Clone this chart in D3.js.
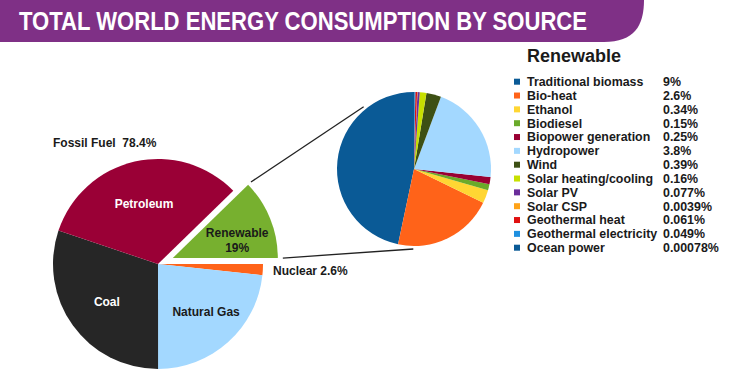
<!DOCTYPE html>
<html>
<head>
<meta charset="utf-8">
<script src="https://cdn.jsdelivr.net/npm/d3@7"></script>
<style>
  body { margin: 0; background: #fff; }
  text { font-family: "Liberation Sans", Arial, sans-serif; font-weight: bold; }
</style>
</head>
<body>
<div id="chart"></div>
<script>
// main pie, clockwise from the renewable wedge (shares as drawn)
const mainNames = ["Renewable", "Nuclear", "Natural Gas", "Coal", "Petroleum"];
const mainShares = [12.3, 1.7, 23.3, 30.2, 32.6];
const mainColors = ["#77b02f", "#ff6319", "#a3d8ff", "#262626", "#9a0036"];

// renewable breakdown, legend order (counter-clockwise from top in the pie)
const renNames = ["Traditional biomass", "Bio-heat", "Ethanol", "Biodiesel", "Biopower generation",
  "Hydropower", "Wind", "Solar heating/cooling", "Solar PV", "Solar CSP",
  "Geothermal heat", "Geothermal electricity", "Ocean power"];
const renLabels = ["9%", "2.6%", "0.34%", "0.15%", "0.25%", "3.8%", "0.39%", "0.16%",
  "0.077%", "0.0039%", "0.061%", "0.049%", "0.00078%"];
const renShares = [46.7, 21.1, 2.8, 1.25, 1.5, 21, 3.1, 1.4, 0.47, 0.08, 0.36, 0.2, 0.08];
const renColors = ["#0a5a96", "#ff6319", "#ffd633", "#6aaa2a", "#990033", "#a3d8ff", "#3d5014",
  "#c7e000", "#6a2d9a", "#ffa319", "#e01010", "#1e90e0", "#0a5a96"];

const width = 750, height = 384;
const rad = d => d * Math.PI / 180;

const svg = d3.select("#chart").append("svg")
  .attr("width", width).attr("height", height);

// header band
svg.append("path")
  .attr("d", "M0,0 H644 C644,26 634,42 604,42 H0 Z")
  .attr("fill", "#7f3086");

svg.append("text")
  .attr("x", 19).attr("y", 30)
  .attr("font-size", 25)
  .attr("fill", "#fff")
  .attr("textLength", 568)
  .attr("lengthAdjust", "spacingAndGlyphs")
  .text("TOTAL WORLD ENERGY CONSUMPTION BY SOURCE");

// ---- main pie
const cx = 158, cy = 264, R = 105, explode = 16;

const mainPie = d3.pie().sort(null)
  .startAngle(rad(45.8)).endAngle(rad(45.8) + 2 * Math.PI);
const mainArcs = mainPie(mainShares);
const arc = d3.arc().innerRadius(0).outerRadius(R);
const labelArc = d3.arc().innerRadius(R * 0.6).outerRadius(R * 0.6);

const mainG = svg.append("g").attr("transform", `translate(${cx},${cy})`);

const offsetOf = (d, i) => {
  if (i !== 0) return [0, 0];
  const m = (d.startAngle + d.endAngle) / 2;
  return [explode * Math.sin(m), -explode * Math.cos(m)];
};

mainG.selectAll("path")
  .data(mainArcs)
  .join("path")
  .attr("d", arc)
  .attr("transform", (d, i) => `translate(${offsetOf(d, i)})`)
  .attr("fill", (d, i) => mainColors[i]);

// slice labels
const labelColors = { "Petroleum": "#fff", "Coal": "#fff", "Natural Gas": "#1a1a1a" };
mainArcs.forEach((d, i) => {
  const name = mainNames[i];
  if (name === "Nuclear") return;
  const [ox, oy] = offsetOf(d, i);
  const [lx, ly] = labelArc.centroid(d);
  const t = mainG.append("text")
    .attr("text-anchor", "middle")
    .attr("font-size", 12)
    .attr("fill", labelColors[name] || "#1a1a1a");
  if (name === "Renewable") {
    t.append("tspan").attr("x", lx + ox + 6).attr("y", ly + oy + 3).text("Renewable");
    t.append("tspan").attr("x", lx + ox + 6).attr("y", ly + oy + 18).text("19%");
  } else {
    t.attr("x", lx + (name === "Natural Gas" ? 6 : 0)).attr("y", ly + 5).text(name);
  }
});

svg.append("text")
  .attr("x", 273).attr("y", 275)
  .attr("font-size", 12)
  .attr("fill", "#1a1a1a")
  .text("Nuclear 2.6%");

svg.append("text")
  .attr("x", 53).attr("y", 147)
  .attr("font-size", 12)
  .attr("fill", "#1a1a1a")
  .attr("xml:space", "preserve")
  .text("Fossil Fuel  78.4%");

// ---- renewable breakdown pie
const sx = 414, sy = 169, r = 77;
const renPie = d3.pie().sort(null).startAngle(2 * Math.PI).endAngle(0);
const subArc = d3.arc().innerRadius(0).outerRadius(r);

svg.append("g")
  .attr("transform", `translate(${sx},${sy})`)
  .selectAll("path")
  .data(renPie(renShares))
  .join("path")
  .attr("d", subArc)
  .attr("fill", (d, i) => renColors[i]);

// connector lines from the exploded wedge to the breakdown pie
const ren = mainArcs[0];
const [ex, ey] = offsetOf(ren, 0);
const polar = (x0, y0, a, rr) => [x0 + rr * Math.sin(a), y0 - rr * Math.cos(a)];
const links = [
  [polar(cx + ex, cy + ey, ren.startAngle, R + 4), polar(sx, sy, rad(321), r + 3)],
  [polar(cx + ex, cy + ey, ren.endAngle, R + 5), polar(sx, sy, rad(180.5), r + 3)]
];
svg.selectAll("line.link")
  .data(links)
  .join("line")
  .attr("class", "link")
  .attr("x1", d => d[0][0]).attr("y1", d => d[0][1])
  .attr("x2", d => d[1][0]).attr("y2", d => d[1][1])
  .attr("stroke", "#222")
  .attr("stroke-width", 1.3);

// ---- legend
svg.append("text")
  .attr("x", 527).attr("y", 62)
  .attr("font-size", 18)
  .attr("fill", "#1a1a1a")
  .text("Renewable");

const rowY = d3.scaleLinear().domain([0, 12]).range([81.7, 247.7]);

const rows = svg.append("g").selectAll("g")
  .data(renNames)
  .join("g")
  .attr("transform", (d, i) => `translate(0,${rowY(i)})`);

rows.append("rect")
  .attr("x", 514).attr("y", -3)
  .attr("width", 6).attr("height", 6)
  .attr("fill", (d, i) => renColors[i]);

rows.append("text")
  .attr("x", 527).attr("y", 4.3)
  .attr("font-size", 12.4)
  .attr("fill", "#1a1a1a")
  .text(d => d);

rows.append("text")
  .attr("x", 663).attr("y", 4.3)
  .attr("font-size", 12.4)
  .attr("fill", "#1a1a1a")
  .text((d, i) => renLabels[i]);
</script>
</body>
</html>
